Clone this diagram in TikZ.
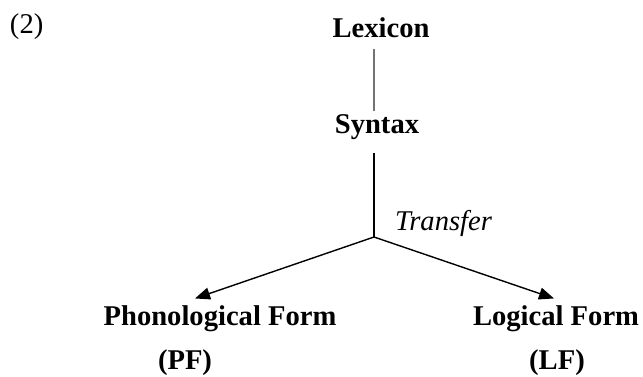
\documentclass[tikz,border=0pt]{standalone}
\usepackage{fontspec}
\setmainfont{Liberation Serif}
\usetikzlibrary{arrows.meta,calc}

\begin{document}
\begin{tikzpicture}[x=0.5pt,y=-0.5pt,
  every node/.style={inner sep=0pt,outer sep=0pt,anchor=base,
    font=\fontsize{14.3}{17}\selectfont},
  term/.style={font=\fontsize{14.3}{17}\selectfont\bfseries},
  label/.style={font=\fontsize{14.3}{17}\selectfont\itshape,anchor=base west},
  lexline/.style={draw=black!55,line width=1.3pt},
  trunk/.style={draw=black,line width=0.7pt},
  branch/.style={draw=black,line width=0.7pt,
    -{Triangle[length=7.5pt,width=6pt]}}]

\useasboundingbox (0,0) rectangle (643,376);

% example number
\node[anchor=base west] (num) at (10,33) {(2)};

% levels of the derivation
\node[term] (lex) at (381,37) {Lexicon};
\node[term] (syn) at (377,133) {Syntax};
\coordinate (split) at (374,237);
\node[label] (tr) at (395,230) {Transfer};

% interfaces
\node[term] (pf) at (220,325) {Phonological Form};
\node[term] (lf) at (556,325) {Logical Form};
\node[term] (pfab) at (185,369) {(PF)};
\node[term] (lfab) at (557,369) {(LF)};

% connectors
\draw[lexline] ([yshift=-6pt]lex.south -| split) -- ([yshift=1.75pt]syn.north -| split);
\draw[trunk] ([yshift=-7pt]syn.south -| split) -- (split);
\draw[branch] (split) -- ([shift={(-12.5pt,3.35pt)}]pf.north);
\draw[branch] (split) -- ([shift={(-1pt,3.35pt)}]lf.north);
\end{tikzpicture}
\end{document}
